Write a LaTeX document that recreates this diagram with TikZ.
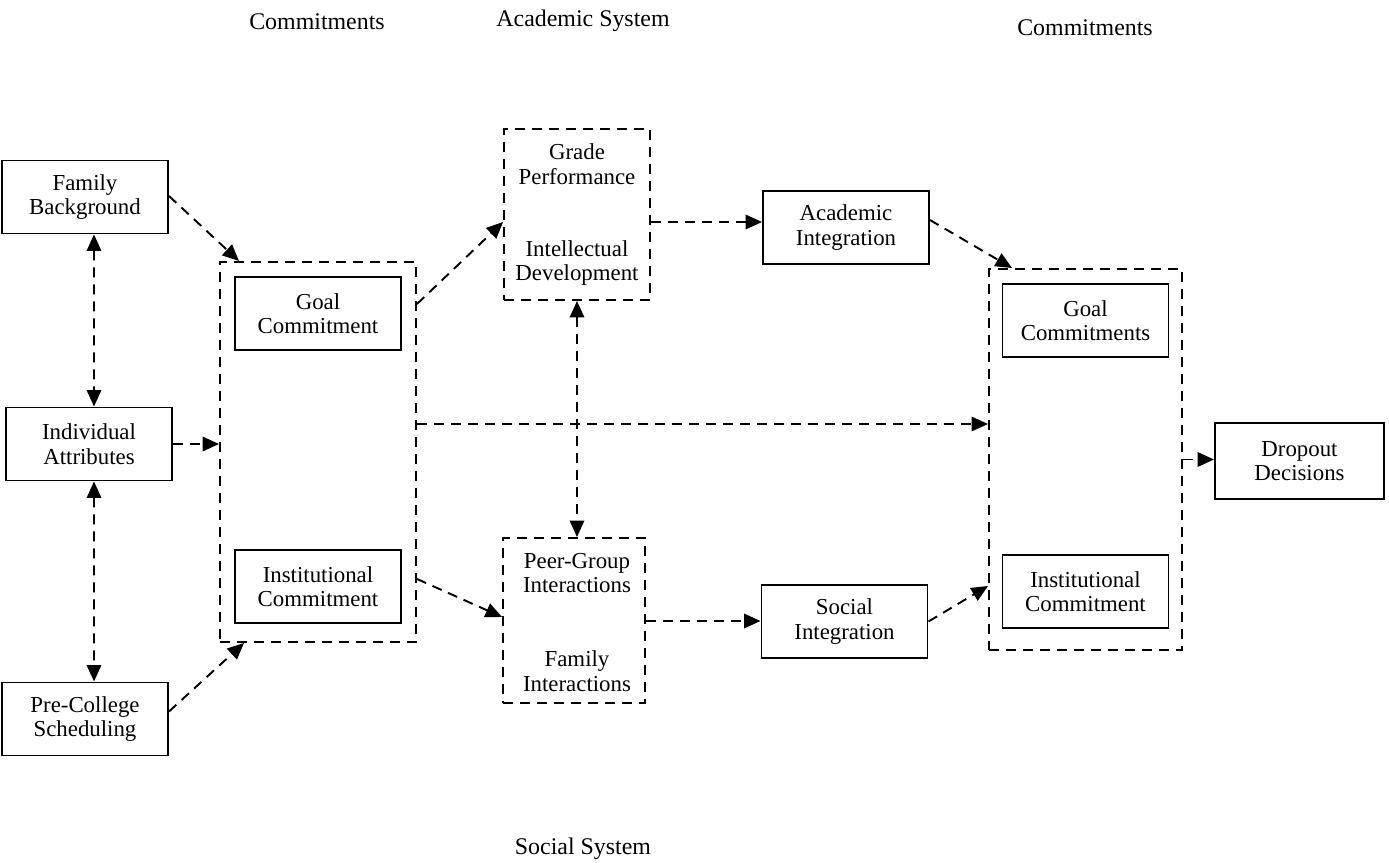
\documentclass[tikz,border=0pt]{standalone}
\usepackage{fontspec}
\setmainfont{Liberation Serif}
\usetikzlibrary{arrows.meta, positioning}

\begin{document}
\begin{tikzpicture}[
  x=0.2mm, y=-0.2mm,
  every node/.style={font=\fontsize{13}{14}\selectfont, align=center},
  heading/.style={font=\fontsize{13.6}{15}\selectfont},
  factor/.style={rectangle, draw, line width=1.1pt, minimum width=33.2mm, minimum height=14.6mm, inner sep=1pt},
  group/.style={rectangle, draw, line width=1.1pt, dash pattern=on 2mm off 1.4mm},
  link/.style={-{Triangle[length=3.3mm, width=2.9mm]}, line width=1.1pt, dash pattern=on 2mm off 1.4mm},
  twoway/.style={{Triangle[length=3.3mm, width=2.9mm]}-{Triangle[length=3.3mm, width=2.9mm]}, line width=1.1pt, dash pattern=on 2mm off 1.4mm}
]
\useasboundingbox (0,0) rectangle (1389,863);

% headings
\node[heading] (ttlcommitL) at (317,22) {Commitments};
\node[heading] (ttlacad) at (583,21) {Academic System};
\node[heading] (ttlcommitR) at (1085,28) {Commitments};
\node[heading] (ttlsocial) at (583,849) {Social System};

% pre-entry attributes
\node[factor] (FB) at (85,197) {Family\\Background};
\node[factor] (IA) at (89,444) {Individual\\Attributes};
\node[factor] (PC) at (85,719) {Pre-College\\Scheduling};

% first commitments
\node[group, minimum width=39.2mm, minimum height=76mm] (commitL) at (318,452) {};
\node[factor, below=3mm of commitL.north] (GC1) {Goal\\Commitment};
\node[factor, above=3.8mm of commitL.south] (IC1) {Institutional\\Commitment};

% academic and social systems
\node[group, minimum width=29.2mm, minimum height=34.2mm] (acad) at (577,214.5) {};
\node (grade) at ([yshift=-7.2mm]acad.north) {Grade\\Performance};
\node (intel) at ([yshift=7.6mm]acad.south) {Intellectual\\Development};
\node[group, minimum width=28.4mm, minimum height=33mm] (social) at (574,620.5) {};
\node (peer) at ([xshift=0.6mm, yshift=-7.2mm]social.north) {Peer-Group\\Interactions};
\node (famint) at ([xshift=0.6mm, yshift=6.6mm]social.south) {Family\\Interactions};

% integration
\node[factor] (AI) at (846,227.5) {Academic\\Integration};
\node[factor] (SI) at (844.5,621.5) {Social\\Integration};

% later commitments
\node[group, minimum width=38.6mm, minimum height=76.2mm] (commitR) at (1085.5,459.5) {};
\node[factor, below=3mm of commitR.north] (GC2) {Goal\\Commitments};
\node[factor, above=4.4mm of commitR.south] (IC2) {Institutional\\Commitment};

\node[factor, minimum width=33.8mm, minimum height=15.2mm] (DD) at (1299.5,461) {Dropout\\Decisions};

% connections
\draw[link] ([yshift=0.2mm]FB.east) -- ([xshift=4mm]commitL.north west);
\draw[twoway] ([xshift=1.8mm]FB.south) -- ([xshift=1mm]IA.north);
\draw[link] (IA.east) -- (IA.east -| commitL.west);
\draw[twoway] ([xshift=1mm]IA.south) -- ([xshift=1.8mm]PC.north);
\draw[link] ([yshift=1.5mm]PC.east) -- ([xshift=5mm]commitL.south west);

\draw[link] ([yshift=-8.6mm]commitL.north east) -- ([yshift=-1.5mm]acad.west);
\draw[link] ([yshift=5.6mm]commitL.east) -- ([yshift=5.6mm]commitL.east -| commitR.west);
\draw[link] ([yshift=12.8mm]commitL.south east) -- ([yshift=0.7mm]social.west);

\draw[link] ([yshift=-1.5mm]acad.east) -- ([yshift=-1.5mm]acad.east -| AI.west);
\draw[twoway] (acad.south) -- (acad.south |- social.north);
\draw[link] ([yshift=-0.1mm]social.east) -- ([yshift=-0.1mm]social.east -| SI.west);

\draw[link] ([yshift=1.5mm]AI.east) -- ([xshift=4.8mm]commitR.north west);
\draw[link] (SI.east) -- ([yshift=13mm]commitR.south west);
\draw[link] (commitR.east) -- (commitR.east -| DD.west);
\end{tikzpicture}
\end{document}
